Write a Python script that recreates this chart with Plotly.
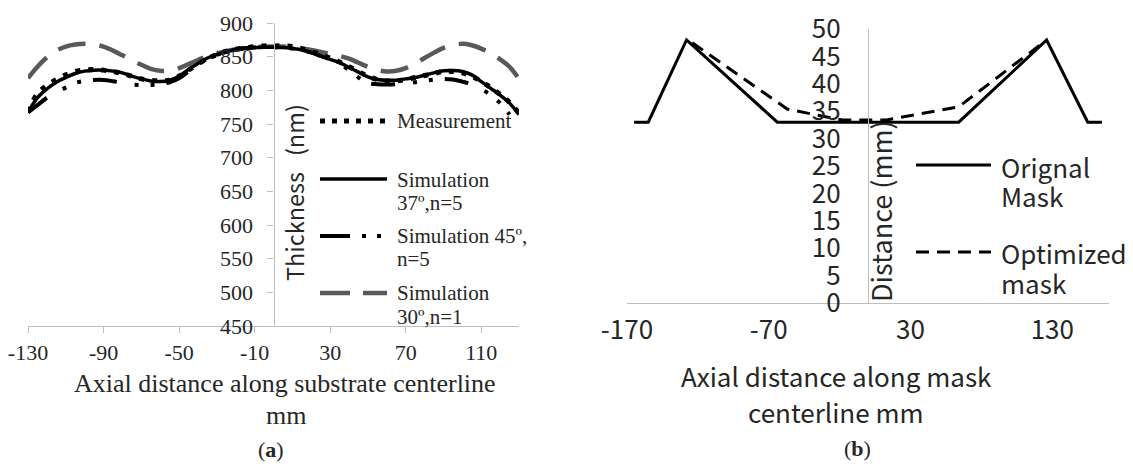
import plotly.graph_objects as go

# ---------------- data: (a) film thickness profiles ----------------
pos_mm = list(range(-130, 131, 5))

measurement = [768, 795, 807, 816, 823, 828, 830, 831, 830, 828, 825, 821, 817, 815, 814,
               815, 821, 830, 839, 847, 853, 858, 861, 863, 865, 866, 866, 866, 865, 862,
               858, 853, 848, 842, 835, 828, 821, 816, 814, 814, 816, 819, 822, 825, 828,
               828, 826, 821, 813, 804, 794, 782, 766]

sim_37_n5 = [767, 789, 802, 812, 819, 825, 828.5, 830, 830, 828.5, 826, 821, 817, 814, 813,
             815, 821, 831, 840, 848, 853, 857.5, 860.5, 862.5, 863.5, 864, 864, 863.5, 862,
             860, 856, 851, 846, 841, 834, 827, 820, 816, 815, 815, 817, 819, 822.5, 826,
             829, 829.5, 828, 823, 813, 803, 793, 781, 764]

sim_45_n5 = [767, 778, 789, 797, 804, 811, 814, 815.5, 815.5, 813.5, 811, 808.5, 808, 808, 809,
             812, 818, 828, 838, 847, 852.5, 857.5, 860.5, 862.5, 863.5, 864, 864, 863.5, 862,
             860, 856, 851, 846, 839, 830, 819, 811, 809, 808.5, 809, 810, 812, 814, 816,
             817, 816, 813, 809, 802, 793, 781, 764]

sim_30_n1 = [818, 835, 849, 859, 865, 868, 869, 868, 865, 859, 852, 845, 838, 832, 829,
             829, 833, 839, 845, 851, 855, 858, 861, 863, 864, 865, 865, 865, 864, 862,
             860, 857, 854, 851, 847, 841, 835, 830, 828, 829, 833, 840, 848, 856, 863,
             867, 869, 867, 862, 855, 846, 835, 817]

thick_ticks = list(range(450, 901, 50))
pos_ticks_a = [-130, -90, -50, -10, 30, 70, 110]

# ---------------- data: (b) mask profiles ----------------
mask_orig_x = [-165, -155, -128, -64, 64, 126, 155, 165]
mask_orig_y = [33, 33, 48, 33, 33, 48, 33, 33]

mask_opt_x = [-124, -57, -36, -18, 13, 64, 126]
mask_opt_y = [47.5, 35.4, 34.3, 33.4, 33.4, 35.8, 48]

dist_ticks = list(range(0, 51, 5))
pos_ticks_b = [-170, -70, 30, 130]

# ---------------- page geometry (pixels) ----------------
W, H = 1133, 464


def fx(px):
    return px / W


def fy(py):
    return 1 - py / H


def tick_text(vals):
    # plain hyphen-minus for negative numbers
    return [str(v) for v in vals]


SERIF = "Liberation Serif"
SANS = "Noto Sans CJK SC"
AXIS_GRAY = "#bfbfbf"
TXT = "#262626"
NBSP = "\u00a0"

fig = go.Figure()

# (a) traces
fig.add_trace(go.Scatter(x=pos_mm, y=sim_30_n1, mode="lines", xaxis="x", yaxis="y",
                         line=dict(color="#595959", width=4.5, dash="28px,14px", shape="spline")))
fig.add_trace(go.Scatter(x=pos_mm, y=sim_45_n5, mode="lines", xaxis="x", yaxis="y",
                         line=dict(color="black", width=4,
                                   dash="24px,18px,4px,12px,4px,12px", shape="spline")))
fig.add_trace(go.Scatter(x=pos_mm, y=sim_37_n5, mode="lines", xaxis="x", yaxis="y",
                         line=dict(color="black", width=3.5, shape="spline")))
fig.add_trace(go.Scatter(x=pos_mm, y=measurement, mode="lines", xaxis="x", yaxis="y",
                         line=dict(color="black", width=5, dash="5px,8px", shape="spline")))

# (b) traces
fig.add_trace(go.Scatter(x=mask_orig_x, y=mask_orig_y, mode="lines", xaxis="x2", yaxis="y2",
                         line=dict(color="black", width=3)))
fig.add_trace(go.Scatter(x=mask_opt_x, y=mask_opt_y, mode="lines", xaxis="x2", yaxis="y2",
                         line=dict(color="black", width=3, dash="13px,8px")))

a_left, a_right = 28, 519
b_left, b_right = 627, 1109

fig.update_layout(
    width=W, height=H, autosize=False,
    margin=dict(l=0, r=0, t=0, b=0, pad=0, autoexpand=False),
    paper_bgcolor="white", plot_bgcolor="white",
    showlegend=False,
    xaxis=dict(domain=[fx(a_left), fx(a_right)], range=[-130, 130], anchor="y",
               automargin=False,
               showline=True, linecolor=AXIS_GRAY, linewidth=1.3,
               tickvals=pos_ticks_a, ticktext=tick_text(pos_ticks_a),
               ticks="outside", ticklen=6, tickcolor=AXIS_GRAY,
               tickwidth=1.3, tickfont=dict(family=SERIF, size=22, color=TXT),
               ticklabelstandoff=0, showgrid=False, zeroline=False),
    yaxis=dict(domain=[fy(326), fy(23)], range=[450, 900], anchor="free",
               position=fx((a_left + a_right) / 2), automargin=False,
               showline=True, linecolor=AXIS_GRAY, linewidth=1.3,
               tickvals=thick_ticks, ticktext=tick_text(thick_ticks),
               ticks="outside", ticklen=6, tickcolor=AXIS_GRAY,
               tickwidth=1.3, tickfont=dict(family=SERIF, size=22, color=TXT),
               ticklabelstandoff=10, showgrid=False, zeroline=False),
    xaxis2=dict(domain=[fx(b_left), fx(b_right)], range=[-170, 170], anchor="y2",
                automargin=False,
                showline=True, linecolor=AXIS_GRAY, linewidth=1.3,
                tickvals=pos_ticks_b, ticktext=tick_text(pos_ticks_b),
                ticks="", tickfont=dict(family=SANS, size=26, color=TXT),
                ticklabelstandoff=4, showgrid=False, zeroline=False),
    yaxis2=dict(domain=[fy(303), fy(29)], range=[0, 50], anchor="free",
                position=fx((b_left + b_right) / 2), automargin=False,
                showline=True, linecolor=AXIS_GRAY, linewidth=1.3,
                tickvals=dist_ticks, ticktext=tick_text(dist_ticks),
                ticks="", tickfont=dict(family=SANS, size=26, color=TXT),
                ticklabelstandoff=22, showgrid=False, zeroline=False),
)


def label(text, x, y, size, family, anchor="center", angle=0):
    fig.add_annotation(text=text,
                       xref="paper", yref="paper", x=fx(x), y=fy(y),
                       xanchor=anchor, yanchor="middle", showarrow=False, textangle=angle,
                       font=dict(family=family, size=size, color=TXT))


def sample(x0, x1, y, width, dash, color="black"):
    fig.add_shape(type="line", xref="paper", yref="paper",
                  x0=fx(x0), x1=fx(x1), y0=fy(y), y1=fy(y),
                  line=dict(color=color, width=width, dash=dash))


# (a) axis titles and caption
label("Thickness" + NBSP * 3 + "(nm)", 294, 193, 23.5, SANS, angle=-90)
label("Axial distance along substrate centerline", 285, 383, 26, SERIF)
label("mm", 286, 415, 26, SERIF)
label("(<b>a</b>)", 271, 449, 22, SERIF)

# (a) legend
sample(320, 386, 121, 5, "5px,7px")
label("Measurement", 395, 121, 21, SERIF, anchor="left")
sample(320, 387, 179, 3.5, "solid")
label("Simulation", 395, 180, 21, SERIF, anchor="left")
label("37º,n=5", 395, 203, 21, SERIF, anchor="left")
sample(320, 384, 236, 4, "30px,12px,4px,11px,4px,20px")
label("Simulation 45º,", 395, 236, 21, SERIF, anchor="left")
label("n=5", 395, 259, 21, SERIF, anchor="left")
sample(320, 387, 293, 4.5, "30px,13px", color="#595959")
label("Simulation", 395, 293, 21, SERIF, anchor="left")
label("30º,n=1", 395, 317, 21, SERIF, anchor="left")

# (b) axis titles and caption
label("Distance (mm)", 881, 211, 27, SANS, angle=-90)
label("Axial distance along mask", 836, 375, 26, SANS)
label("centerline mm", 836, 411, 26, SANS)
label("(<b>b</b>)", 857, 448, 22, SERIF)

# (b) legend
sample(916, 991, 165, 3, "solid")
label("Orignal", 999, 166, 26, SANS, anchor="left")
label("Mask", 999, 195, 26, SANS, anchor="left")
sample(916, 991, 252, 3, "13px,8px")
label("Optimized", 999, 252, 26, SANS, anchor="left")
label("mask", 999, 282, 26, SANS, anchor="left")

fig.write_html("out.html")
